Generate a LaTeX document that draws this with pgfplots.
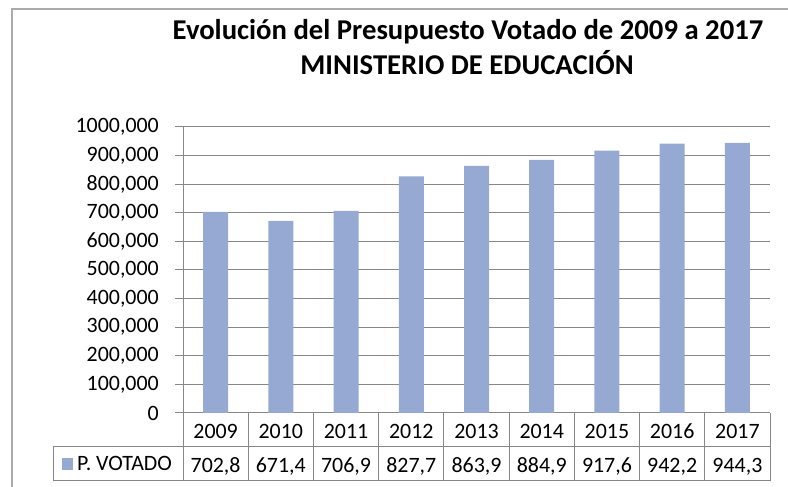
\documentclass[border=0pt]{standalone}
\usepackage{pgfplots}
\pgfplotsset{compat=1.18}
\usepackage{fontspec}
\setmainfont{Carlito}
\definecolor{barc}{HTML}{95A9D2}
\definecolor{gridc}{HTML}{878787}
\begin{document}
\begin{tikzpicture}[x=1bp,y=1bp]
\useasboundingbox (0,0) rectangle (788,487);
\clip (0,0) rectangle (788,487);
% outer chart border
\draw[gridc!70, line width=1.2bp] (12,-5) -- (12,478) -- (800,478);
% title
\node[font=\fontsize{28.8}{32}\selectfont\bfseries, anchor=base] at (468,447) {Evolución del Presupuesto Votado de 2009 a 2017};
\node[font=\fontsize{28.8}{32}\selectfont\bfseries, anchor=base] at (467,412) {MINISTERIO DE EDUCACIÓN};
\begin{axis}[
  at={(183bp,74bp)}, anchor=south west,
  scale only axis, width=587bp, height=286bp,
  ybar, bar width=25bp,
  xmin=-0.5, xmax=8.5, ymin=0, ymax=1000,
  xtick={0,...,8},
  xticklabels={{2009\\702,8},{2010\\671,4},{2011\\706,9},{2012\\827,7},{2013\\863,9},{2014\\884,9},{2015\\917,6},{2016\\942,2},{2017\\944,3}},
  xticklabel style={align=center, anchor=north, inner sep=0pt, yshift=-3bp, font=\fontsize{22}{34}\selectfont},
  x tick style={draw=none},
  ytick={0,100,...,1000},
  yticklabels={{0},{100,000},{200,000},{300,000},{400,000},{500,000},{600,000},{700,000},{800,000},{900,000},{1000,000}},
  yticklabel style={font=\fontsize{22}{24}\selectfont, inner sep=0pt, xshift=-16bp},
  ymajorgrids, grid style={gridc, line width=1bp},
  axis x line*=bottom, axis y line*=left,
  axis line style={gridc, line width=1bp, -},
  y tick style={gridc, line width=1bp},
  tick align=outside, major tick length=8bp,
  legend style={draw=none, fill=none, inner sep=0pt, at={(-0.2061,-0.178)}, anchor=west, font=\fontsize{22}{24}\selectfont},
  legend image code/.code={\fill[barc] (0bp,-6bp) rectangle (11bp,6bp); \path (13bp,0bp);},
]
\addplot[fill=barc, draw=none] coordinates {(0,702.8) (1,671.4) (2,706.9) (3,827.7) (4,863.9) (5,884.9) (6,917.6) (7,942.2) (8,944.3)};
\addlegendentry{P. VOTADO}
\end{axis}
% data table grid
\begin{scope}[gridc, line width=1bp]
\draw (53,40) -- (770,40);
\draw (53,6) -- (770,6);
\draw (53,6) -- (53,40);
\foreach \k in {0,...,9} { \draw ({183+65.222*\k},74) -- ({183+65.222*\k},6); }
\end{scope}
\end{tikzpicture}
\end{document}
